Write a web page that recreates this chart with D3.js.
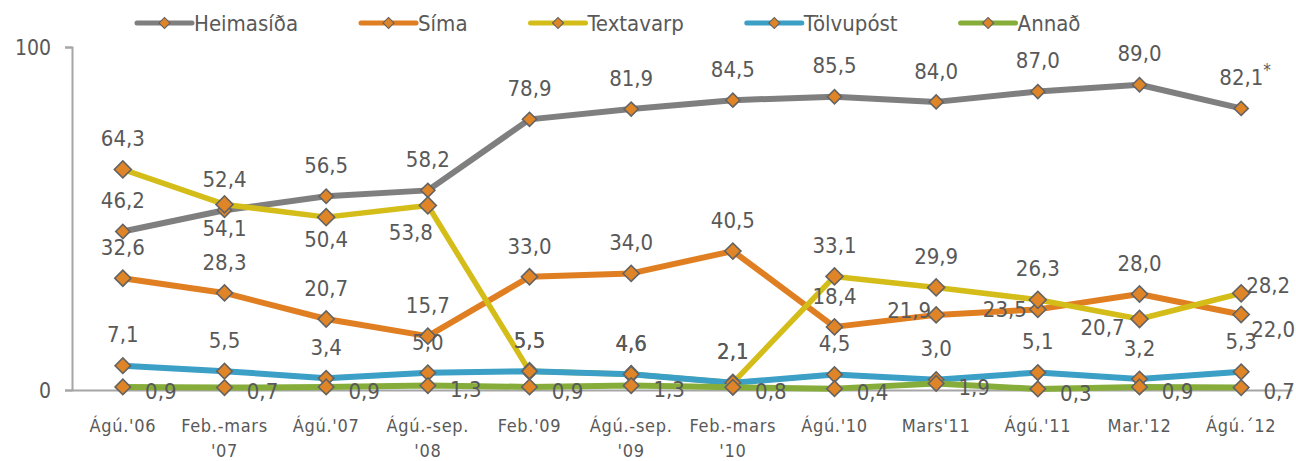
<!DOCTYPE html>
<html>
<head>
<meta charset="utf-8">
<script src="https://cdn.jsdelivr.net/npm/d3@7"></script>
<style>
  html, body { margin: 0; padding: 0; background: #fff; }
  svg text { font-family: "DejaVu Sans Condensed", "DejaVu Sans", sans-serif; font-stretch: condensed; fill: #595959; }
</style>
</head>
<body>
<div id="chart"></div>
<script>
// categories (second line after the "|")
const categories = ["Ágú.'06", "Feb.-mars|'07", "Ágú.'07", "Ágú.-sep.|'08", "Feb.'09", "Ágú.-sep.|'09",
  "Feb.-mars|'10", "Ágú.'10", "Mars'11", "Ágú.'11", "Mar.'12", "Ágú.´12"]

const heimasida = [46.2, 52.4, 56.5, 58.2, 78.9, 81.9, 84.5, 85.5, 84.0, 87.0, 89.0, 82.1]
const sima      = [32.6, 28.3, 20.7, 15.7, 33.0, 34.0, 40.5, 18.4, 21.9, 23.5, 28.0, 22.0]
const textavarp = [64.3, 54.1, 50.4, 53.8, 5.5, 4.6, 2.1, 33.1, 29.9, 26.3, 20.7, 28.2]
const tolvupost = [7.1, 5.5, 3.4, 5.0, 5.5, 4.6, 2.1, 4.5, 3.0, 5.1, 3.2, 5.3]
const annad     = [0.9, 0.7, 0.9, 1.3, 0.9, 1.3, 0.8, 0.4, 1.9, 0.3, 0.9, 0.7]

const seriesNames = ["Heimasíða", "Síma", "Textavarp", "Tölvupóst", "Annað"]
const yTicks = [0, 100]

const width = 1296, height = 461
const margin = {top: 47, right: 4, bottom: 71, left: 72}

const series = [
  {name: seriesNames[0], values: heimasida, color: "#7f7f7f", lw: 6, mk: 100},
  {name: seriesNames[1], values: sima, color: "#e07f22", lw: 6, mk: 130},
  {name: seriesNames[2], values: textavarp, color: "#d4bd18", lw: 5.5, mk: 145},
  {name: seriesNames[3], values: tolvupost, color: "#3b9fc6", lw: 6, mk: 120},
  {name: seriesNames[4], values: annad, color: "#86ad3a", lw: 6, mk: 120}
]

// label offsets from point (label centre), default above; Annað default right
const labelOffsets = {
  "0-11": [4, -31],
  "1-8": [-27, -5], "1-9": [-33, 0], "1-11": [32, 15],
  "2-1": [0, 24], "2-2": [0, 22], "2-3": [-17, 27], "2-10": [-37, 8], "2-11": [27, -8]
}

const locale = d3.formatLocale({decimal: ",", thousands: ".", grouping: [3], currency: ["", " kr."]})
const fmt = locale.format(".1f")

const svg = d3.select("#chart").append("svg")
  .attr("width", width)
  .attr("height", height)

const x = d3.scaleBand()
  .domain(categories)
  .range([margin.left, width - margin.right])

const y = d3.scaleLinear()
  .domain([0, 100])
  .range([height - margin.bottom, margin.top])

const cx = i => x(categories[i]) + x.bandwidth() / 2

// axes
const yAxis = svg.append("g")
  .attr("transform", `translate(${margin.left},0)`)
  .call(d3.axisLeft(y).tickValues(yTicks).tickSize(7).tickPadding(14).tickFormat(d3.format("d")))
yAxis.select(".domain").attr("stroke", "#a6a6a6").attr("stroke-width", 2)
yAxis.selectAll(".tick line").attr("stroke", "#a6a6a6").attr("stroke-width", 2)
yAxis.selectAll(".tick text").style("font-size", "21px").attr("dy", "0.35em")

const xAxis = svg.append("g")
  .attr("transform", `translate(0,${y(0)})`)
  .call(d3.axisBottom(x).tickSize(0).tickPadding(0).tickFormat(""))
xAxis.select(".domain").attr("stroke", "#a6a6a6").attr("stroke-width", 2)

const xLabels = svg.append("g")
categories.forEach((c, i) => {
  const lines = c.split("|")
  const t = xLabels.append("text")
    .attr("x", cx(i))
    .attr("y", 432)
    .attr("text-anchor", "middle")
    .style("font-size", "18px")
    .style("letter-spacing", "0.7px")
  lines.forEach((ln, k) => {
    t.append("tspan").attr("x", cx(i)).attr("dy", k === 0 ? 0 : 25).text(ln)
  })
})

// lines and markers
const line = d3.line().x((d, i) => cx(i)).y(d => y(d))

series.forEach((s, si) => {
  const g = svg.append("g")
  g.append("path")
    .datum(s.values)
    .attr("d", line)
    .attr("fill", "none")
    .attr("stroke", s.color)
    .attr("stroke-width", s.lw)
    .attr("stroke-linejoin", "round")

  g.selectAll("path.mk")
    .data(s.values)
    .enter()
    .append("path")
    .attr("class", "mk")
    .attr("d", d3.symbol(d3.symbolSquare, s.mk))
    .attr("transform", (d, i) => `translate(${cx(i)},${y(d)}) rotate(45)`)
    .attr("fill", "#e08527")
    .attr("stroke", "#636363")
    .attr("stroke-width", 1.6)
})

// data labels
const labels = svg.append("g")
series.forEach((s, si) => {
  s.values.forEach((v, i) => {
    const def = si === 4 ? [38, 4] : [0, -31]
    const off = labelOffsets[`${si}-${i}`] || def
    const t = labels.append("text")
      .attr("x", cx(i) + off[0])
      .attr("y", y(v) + off[1])
      .attr("dy", "0.35em")
      .attr("text-anchor", "middle")
      .style("font-size", "22px")
      .text(fmt(v))
    if (si === 0 && i === s.values.length - 1) {
      t.append("tspan").attr("dy", -9).style("font-size", "17px").text("*")
    }
  })
})

// legend
const legend = svg.append("g")
let lx = 137
series.forEach(s => {
  const item = legend.append("g").attr("transform", `translate(${lx},23)`)
  item.append("line")
    .attr("x1", 0).attr("x2", 55)
    .attr("stroke", s.color)
    .attr("stroke-width", 5)
    .attr("stroke-linecap", "round")
  item.append("path")
    .attr("d", d3.symbol(d3.symbolSquare, 60))
    .attr("transform", "translate(27.5,0) rotate(45)")
    .attr("fill", "#e08527")
    .attr("stroke", "#636363")
    .attr("stroke-width", 1.2)
  const t = item.append("text")
    .attr("x", 57)
    .attr("dy", "0.35em")
    .style("font-size", "22px")
    .text(s.name)
  lx += 57 + t.node().getComputedTextLength() + 63
})
</script>
</body>
</html>
